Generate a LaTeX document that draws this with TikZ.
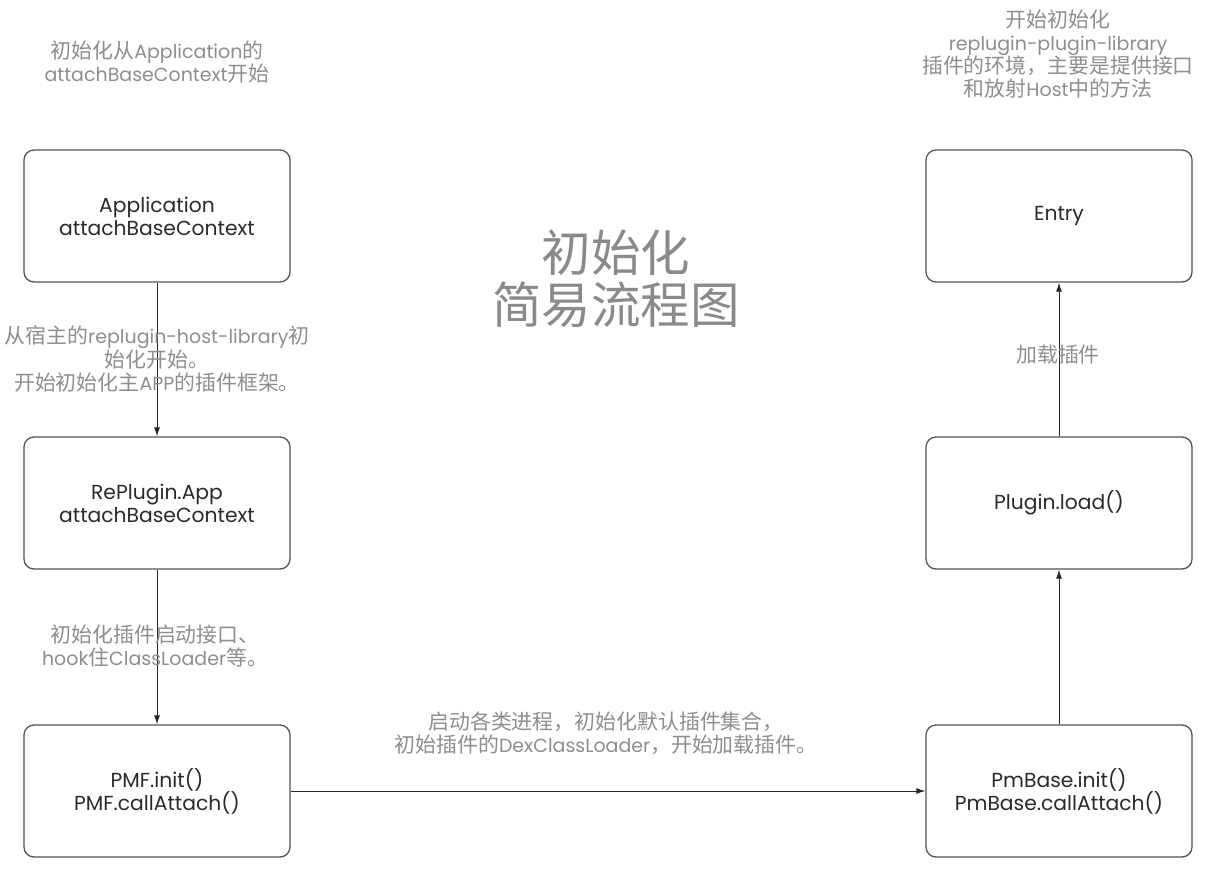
\documentclass[tikz,border=0pt]{standalone}
\usepackage{fontspec}
\setmainfont{Poppins}
\newfontfamily\zh[Scale=1.1]{Noto Sans CJK SC}
\usetikzlibrary{arrows.meta}
\definecolor{boxline}{HTML}{555555}
\definecolor{boxtext}{HTML}{2A2A2A}
\definecolor{labtext}{HTML}{8E8E8E}
\definecolor{titletext}{HTML}{8A8A8A}
\begin{document}
\begin{tikzpicture}[x=1pt,y=-1pt,
  stepbox/.style={draw=boxline,line width=1.3pt,rounded corners=10pt,minimum width=266pt,minimum height=132pt,align=center,text=boxtext,font=\fontsize{20.3}{23}\selectfont,inner sep=0pt},
  lab/.style={align=center,text=labtext,font=\fontsize{19}{22.5}\selectfont,inner sep=0pt},
  conn/.style={draw=black!85,line width=1pt,-{Latex[length=9pt,width=6pt]}}]
\useasboundingbox[fill=white] (0,0) rectangle (1226,878);
% boxes
\node[stepbox] (app) at (157,216) {Application\\attachBaseContext};
\node[stepbox] (rp) at (157,503) {RePlugin.App\\attachBaseContext};
\node[stepbox] (pmf) at (157,791) {PMF.init()\\PMF.callAttach()};
\node[stepbox] (entry) at (1059,216) {Entry};
\node[stepbox] (load) at (1059,503) {Plugin.load()};
\node[stepbox] (pm) at (1059,791) {PmBase.init()\\PmBase.callAttach()};
% connectors
\draw[conn] (app) -- (rp);
\draw[conn] (rp) -- (pmf);
\draw[conn] (pmf) -- (pm);
\draw[conn] (pm) -- (load);
\draw[conn] (load) -- (entry);
% title
\node[align=center,text=titletext,inner sep=0pt,font=\zh\fontsize{45}{52}\selectfont] (title) at (616,279) {初始化\\简易流程图};
% labels
\node[lab] (l0) at (157,62) {{\zh 初始化从}Application{\zh 的}\\attachBaseContext{\zh 开始}};
\node[lab] (r0) at (1058,54) {{\zh 开始初始化}\\replugin-plugin-library\\{\zh 插件的环境，主要是提供接口}\\{\zh 和放射}Host{\zh 中的方法}};
\node[lab] (l1) at (157,359) {{\zh 从宿主的}replugin-host-library{\zh 初}\\{\zh 始化开始。}\\{\zh 开始初始化主}APP{\zh 的插件框架。}};
\node[lab] (l2) at (155,646) {{\zh 初始化插件启动接口、}\\hook{\zh 住}ClassLoader{\zh 等。}};
\node[lab] (b1) at (606,733) {{\zh 启动各类进程，初始化默认插件集合，}\\{\zh 初始插件的}DexClassLoader{\zh ，开始加载插件。}};
\node[lab] (r1) at (1058,355) {{\zh 加载插件}};
\end{tikzpicture}
\end{document}
